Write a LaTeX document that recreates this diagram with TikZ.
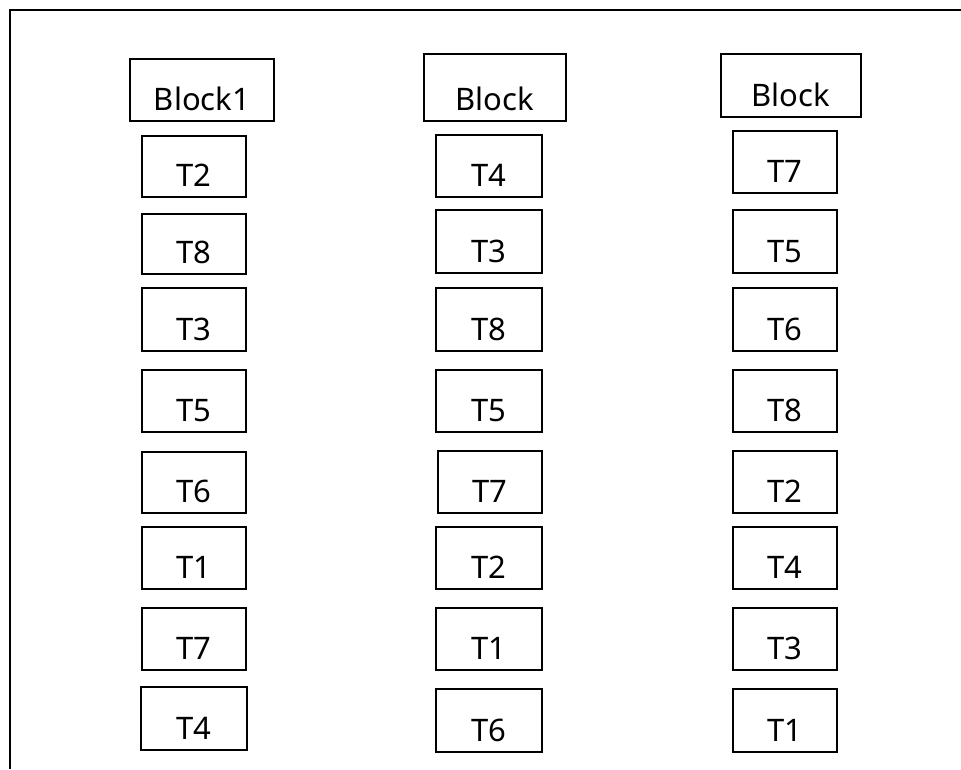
\documentclass[tikz,border=0pt]{standalone}
\usepackage{fontspec}
\setmainfont{Noto Sans}
\tikzset{
  box/.style={draw, line width=1.8pt, inner sep=0pt, align=center, anchor=north west,
    font=\fontsize{31}{35}\selectfont},
  frame/.style={line width=2.2pt}
}
\newcommand{\bx}[6]{%
  \pgfmathsetmacro{\bw}{#4-#2}%
  \pgfmathsetmacro{\bh}{#5-#3-10}%
  \node[box, text width=\bw pt, text height=\bh pt, text depth=10pt] (#1) at (#2,#3) {#6};}
\begin{document}
\begin{tikzpicture}[x=1pt,y=-1pt]
\useasboundingbox (0,0) rectangle (961,769);
\coordinate (fa) at (10,769);
\coordinate (fb) at (10,10);
\coordinate (fc) at (961,10);
\draw[frame] (fa) -- (fb) -- (fc);
% column 1
\bx{b1}{129}{58}{273}{120}{Block1}
\bx{a1}{141}{135}{245}{196}{T2}
\bx{a2}{141}{213}{245}{273}{T8}
\bx{a3}{141}{287}{245}{350}{T3}
\bx{a4}{141}{369}{245}{431}{T5}
\bx{a5}{141}{451}{245}{512}{T6}
\bx{a6}{141}{526}{245}{588}{T1}
\bx{a7}{141}{607}{245}{669}{T7}
\bx{a8}{140}{686}{246}{749}{T4}
% column 2
\bx{b2}{423}{53}{565}{120}{Block}
\bx{c1}{435}{134}{541}{196}{T4}
\bx{c2}{435}{209}{541}{272}{T3}
\bx{c3}{435}{287}{541}{350}{T8}
\bx{c4}{435}{369}{541}{431}{T5}
\bx{c5}{437}{450}{541}{512}{T7}
\bx{c6}{435}{526}{541}{588}{T2}
\bx{c7}{435}{607}{541}{669}{T1}
\bx{c8}{435}{688}{541}{751}{T6}
% column 3
\bx{b3}{720}{53}{860}{116}{Block}
\bx{d1}{732}{130}{836}{192}{T7}
\bx{d2}{732}{209}{836}{272}{T5}
\bx{d3}{732}{287}{836}{350}{T6}
\bx{d4}{732}{369}{836}{431}{T8}
\bx{d5}{732}{450}{836}{512}{T2}
\bx{d6}{732}{526}{836}{588}{T4}
\bx{d7}{732}{607}{836}{669}{T3}
\bx{d8}{732}{688}{836}{751}{T1}
\end{tikzpicture}
\end{document}
